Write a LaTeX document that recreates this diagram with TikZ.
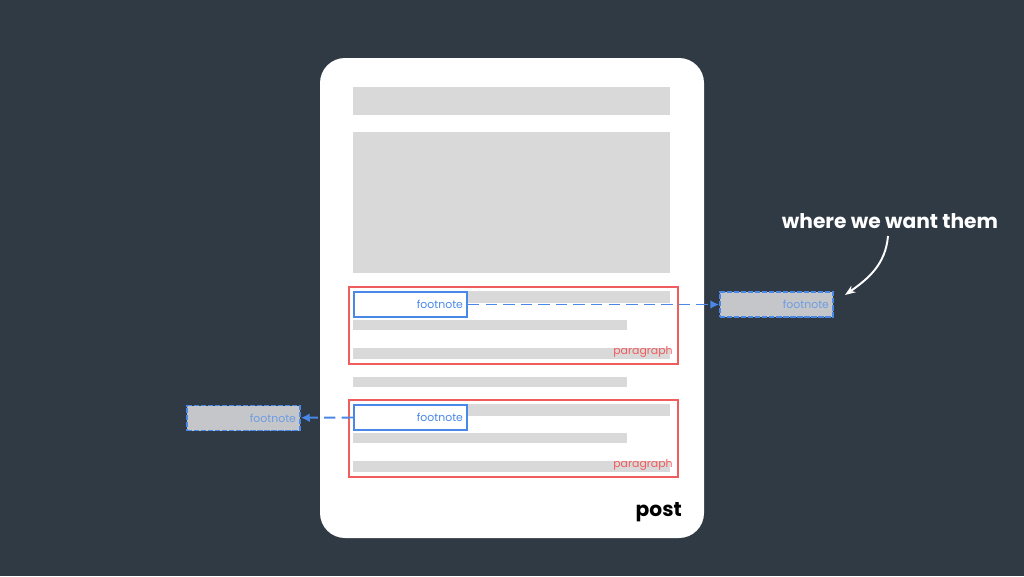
\documentclass[tikz,border=0pt]{standalone}
\usepackage{fontspec}
\setmainfont{Poppins}
\usetikzlibrary{arrows.meta}
\definecolor{slate}{HTML}{2F3A45}
\definecolor{barg}{HTML}{D9D9D9}
\definecolor{ghostg}{HTML}{C4C6C9}
\definecolor{fnblue}{HTML}{4A88E8}
\definecolor{ghostblue}{HTML}{6E9DE2}
\definecolor{parared}{HTML}{F05D5E}
\begin{document}
\begin{tikzpicture}
  [x=0.02cm,y=-0.02cm,every node/.style={font=\fontsize{6.2}{7}\selectfont},
   fnbox/.style={draw=fnblue,line width=1.1pt,fill=white,text=fnblue,text width=2.1cm,align=right,
     inner xsep=0.08cm,inner ysep=0pt,minimum height=0.5cm},
   ghost/.style={fnbox,draw=fnblue,dash pattern=on 3pt off 1pt,fill=ghostg,text=ghostblue},
   link/.style={draw=fnblue,line width=1.1pt,dash pattern=on 6.5pt off 3.5pt,-{Latex[length=5pt,width=5pt]}}]
  \fill[slate] (0,0) rectangle (1024,576);
  \useasboundingbox (0,0) rectangle (1024,576);

  % the post
  \fill[white,rounded corners=0.5cm] (320,58) rectangle (704,538);
  \fill[barg] (353,87) rectangle (670,115);
  \fill[barg] (353,132) rectangle (670,273);
  \fill[barg] (353,377) rectangle (627,387);
  \node[font=\fontsize{11.5}{13}\selectfont\bfseries,anchor=east] (post) at (688,512) {post};

  % paragraphs with their footnotes
  \foreach \t/\n in {287/1,400/2} {
    \fill[barg] (353,\t+4) rectangle (670,\t+16);
    \fill[barg] (353,\t+33) rectangle (627,\t+43);
    \fill[barg] (353,\t+61) rectangle (670,\t+72);
    \draw[parared,line width=1.1pt] (349,\t) rectangle (678,\t+77);
    \node[text=parared,anchor=south east,inner sep=0pt] (para\n) at (673,\t+71) {paragraph};
    \node[fnbox] (fn\n) at (410.5,\t+17.5) {footnote};
  }

  % where they should go
  \node[ghost] (rghost) at (776.5,304.5) {footnote};
  \node[ghost] (lghost) at (243.5,418) {footnote};
  \draw[link] (fn1) -- (rghost);
  \draw[link] (fn2.west) -- (lghost);

  \node[text=white,font=\fontsize{11.5}{14}\selectfont\bfseries] (want) at (890,221) {where we want them};
  \coordinate (tip) at (845,295);
  \draw[white,line width=1.1pt,-{Stealth[length=6pt]}] (888,236) to[out=-95,in=35] (tip);
\end{tikzpicture}
\end{document}
